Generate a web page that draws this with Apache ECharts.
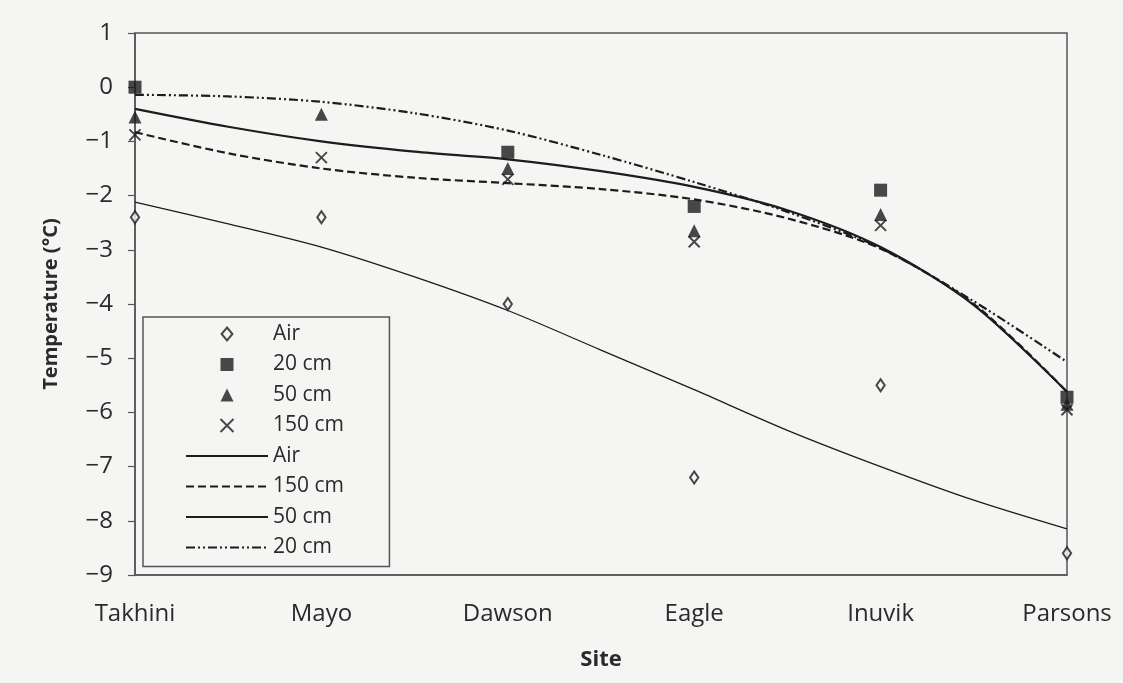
<!DOCTYPE html>
<html>
<head>
<meta charset="utf-8">
<script src="https://cdn.jsdelivr.net/npm/echarts@6/dist/echarts.min.js"></script>
<style>
html,body{margin:0;padding:0;background:#ffffff;}
#chart{width:1123px;height:683px;}
</style>
</head>
<body>
<div id="chart"></div>
<script>
// ---- data ----
const sites = ['Takhini', 'Mayo', 'Dawson', 'Eagle', 'Inuvik', 'Parsons'];
const siteIndex = [0, 1, 2, 3, 4, 5];
const airObs   = [-2.4, -2.4, -4.0, -7.2, -5.5, -8.6];
const cm20Obs  = [0.0, null, -1.2, -2.2, -1.9, -5.72];
const cm50Obs  = [-0.55, -0.5, -1.5, -2.65, -2.35, -5.85];
const cm150Obs = [-0.88, -1.3, -1.7, -2.85, -2.55, -5.95];

// trend curves, read at half-site steps
const fitX      = [0, 0.5, 1, 1.5, 2, 2.5, 3, 3.5, 4, 4.5, 5];
const airFit    = [-2.12, -2.52, -2.95, -3.5, -4.12, -4.85, -5.58, -6.33, -7.0, -7.62, -8.15];
const cm150Fit  = [-0.83, -1.22, -1.5, -1.67, -1.77, -1.88, -2.07, -2.42, -2.98, -4.0, -5.62];
const cm50Fit   = [-0.4, -0.73, -1.0, -1.19, -1.33, -1.55, -1.84, -2.27, -2.95, -4.02, -5.62];
const cm20Fit   = [-0.14, -0.17, -0.27, -0.48, -0.8, -1.25, -1.75, -2.3, -2.97, -3.95, -5.07];

const yTicks = { min: -9, max: 1, step: 1 };

const ink = '#1c1c1c';
const font = '"Open Sans", "Noto Sans", sans-serif';

function pairs(xs, ys) { return xs.map((x, i) => [x, ys[i]]); }

const sym = {
  diamond: 'path://M5,0L10,6L5,12L0,6Z',
  square: 'path://M0,0L10,0L10,10L0,10Z',
  triangle: 'path://M5,0L10,10L0,10Z',
  cross: 'path://M0,0L10,10M10,0L0,10'
};

function lineSeries(name, data, width, type) {
  return {
    name: name, type: 'line', data: data, smooth: 0.3, symbol: 'none',
    lineStyle: { color: ink, width: width, type: type },
    itemStyle: { color: 'transparent' },
    silent: true, z: 2
  };
}

const chart = echarts.init(document.getElementById('chart'), null, { renderer: 'canvas' });

const option = {
  backgroundColor: '#f5f5f4',
  animation: false,
  textStyle: { fontFamily: font, color: '#2a2a2a' },
  grid: {
    left: 135, right: 56, top: 33, bottom: 108,
    show: true, borderColor: '#555', borderWidth: 1.5, backgroundColor: 'transparent'
  },
  xAxis: {
    type: 'value', min: 0, max: 5, interval: 1,
    name: 'Site', nameLocation: 'middle', nameGap: 74,
    nameTextStyle: { fontSize: 22, fontWeight: 'bold', color: '#2a2a2a', fontFamily: font },
    axisLine: { show: true, onZero: false, lineStyle: { color: '#555', width: 1.5 } },
    axisTick: { show: false },
    splitLine: { show: false },
    axisLabel: {
      margin: 27, fontSize: 24, color: '#2a2a2a', fontFamily: font,
      formatter: v => sites[Math.round(v)] || ''
    }
  },
  yAxis: {
    type: 'value', min: yTicks.min, max: yTicks.max, interval: yTicks.step,
    name: 'Temperature (\u00b0C)', nameLocation: 'middle', nameGap: 74, nameRotate: 90,
    nameTextStyle: { fontSize: 20, fontWeight: 'bold', color: '#2a2a2a', fontFamily: font },
    axisLine: { show: true, onZero: false, lineStyle: { color: '#555', width: 1.5 } },
    axisTick: { show: true, length: 7, lineStyle: { color: '#555', width: 1.2 } },
    splitLine: { show: false },
    axisLabel: {
      margin: 22, fontSize: 24, color: '#2a2a2a', fontFamily: font,
      formatter: v => (v < 0 ? '\u2212' + Math.abs(v) : String(v))
    }
  },
  legend: {
    orient: 'vertical', left: 143, top: 317,
    padding: [6, 40, 8, 42],
    itemWidth: 82, itemHeight: 13, itemGap: 8.5, itemTextGap: 6,
    backgroundColor: '#f5f5f4', borderColor: '#555', borderWidth: 1.5,
    selectedMode: false,
    textStyle: { fontSize: 21, lineHeight: 22, color: '#2a2a2a', fontFamily: font },
    data: [
      { name: 'Air' }, { name: '20 cm' }, { name: '50 cm' }, { name: '150 cm' },
      { name: 'Air ', itemStyle: { opacity: 0 } },
      { name: '150 cm ', itemStyle: { opacity: 0 } },
      { name: '50 cm ', itemStyle: { opacity: 0 } },
      { name: '20 cm ', itemStyle: { opacity: 0 } }
    ]
  },
  series: [
    lineSeries('Air ', pairs(fitX, airFit), 1.3, 'solid'),
    lineSeries('150 cm ', pairs(fitX, cm150Fit), 2.2, [8, 4]),
    lineSeries('50 cm ', pairs(fitX, cm50Fit), 2.2, 'solid'),
    lineSeries('20 cm ', pairs(fitX, cm20Fit), 2.2, [9, 3, 2, 3, 2, 3]),
    {
      name: 'Air', type: 'scatter', data: pairs(siteIndex, airObs),
      symbol: sym.diamond, symbolSize: [10, 12], symbolKeepAspect: true,
      itemStyle: { color: '#f5f5f4', borderColor: ink, borderWidth: 2 }, z: 5
    },
    {
      name: '20 cm', type: 'scatter', data: pairs(siteIndex, cm20Obs),
      symbol: sym.square, symbolSize: 13, symbolKeepAspect: true,
      itemStyle: { color: ink }, z: 5
    },
    {
      name: '50 cm', type: 'scatter', data: pairs(siteIndex, cm50Obs),
      symbol: sym.triangle, symbolSize: 13, symbolKeepAspect: true,
      itemStyle: { color: ink }, z: 5
    },
    {
      name: '150 cm', type: 'scatter', data: pairs(siteIndex, cm150Obs),
      symbol: sym.cross, symbolSize: 11, symbolKeepAspect: true,
      itemStyle: { color: 'transparent', borderColor: ink, borderWidth: 2 }, z: 5
    }
  ]
};
chart.setOption(option);
</script>
</body>
</html>
